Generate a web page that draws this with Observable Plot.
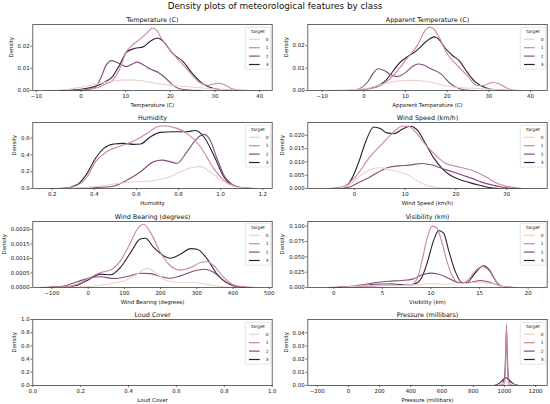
<!DOCTYPE html>
<html><head><meta charset="utf-8">
<script src="https://cdn.jsdelivr.net/npm/d3@7"></script>
<script src="https://cdn.jsdelivr.net/npm/@observablehq/plot@0.6"></script>
<style>
html,body{margin:0;padding:0;background:#fff;}
#fig{position:relative;width:550px;height:404px;overflow:hidden;font-family:"DejaVu Sans",sans-serif;}
#suptitle{position:absolute;left:0;top:0.3px;width:550px;text-align:center;font-size:8.8px;line-height:12px;color:#111;}
.panel{position:absolute;width:275px;height:98px;}
.legend{position:absolute;overflow:visible;}
</style></head><body>
<div id="fig"><div id="suptitle">Density plots of meteorological features by class</div></div>
<script>
const classes = [0, 1, 2, 3];
const classColors = ["#edd1cb", "#c8879e", "#834c7d", "#2d1e3e"];
const legendTitle = "target";
const yLabel = "Density";

// Temperature (C)
const temp0 = [[-8,0],[-5,0.0002],[-2,0.0008],[0,0.0015],[3.6,0.003],[7,0.0042],[10.6,0.0048],[13.2,0.0045],[17.6,0.003],[22,0.002],[28,0.001],[32.4,0.0004],[36,0.0001],[39,0]];
const temp1 = [[-3,0],[0,0.0003],[2,0.0008],[4,0.0015],[5.5,0.003],[7,0.0045],[8.5,0.009],[10.2,0.0177],[11.5,0.0205],[13.2,0.0232],[14.8,0.026],[16,0.0282],[17,0.027],[18,0.0235],[20,0.018],[22,0.0135],[24.3,0.0083],[26.5,0.0037],[28.4,0.0023],[30.6,0.0033],[32,0.0027],[33.8,0.0008],[35.4,0.0002],[38,0]];
const temp2 = [[-1,0],[1,0.0003],[3.2,0.0015],[4.5,0.006],[5.5,0.011],[6.9,0.0135],[8.5,0.0122],[10.2,0.0108],[11.5,0.012],[12.6,0.0128],[14,0.0115],[15.4,0.0098],[17.2,0.0082],[19.1,0.0053],[20.6,0.0023],[22,0.0008],[24.3,0.0002],[27,0]];
const temp3 = [[-5,0],[-2,0.0002],[0,0.0006],[2,0.0012],[4,0.0025],[5.5,0.004],[7,0.0062],[8.5,0.011],[10.2,0.0173],[12,0.019],[13.9,0.0197],[15.5,0.0222],[17.2,0.0237],[18.4,0.0222],[20.6,0.0165],[22.8,0.0132],[25,0.0075],[27.3,0.003],[29.5,0.001],[31.7,0.0003],[35,0]];
const tempXTicks = [-10, 0, 10, 20, 30, 40];
const tempYTicks = [0, 0.01, 0.02];

// Apparent Temperature (C)
const app0 = [[-9,0],[-5.6,0.0002],[-2,0.0005],[0.8,0.001],[4.8,0.003],[8,0.0042],[11.2,0.0045],[15.2,0.004],[18,0.0028],[20.8,0.0017],[25,0.0011],[30,0.0006],[34,0.0002],[38,0]];
const app1 = [[-4,0],[0.8,0.0006],[4.8,0.003],[8.8,0.0105],[10,0.0135],[12.8,0.02],[14.8,0.027],[15.9,0.0281],[17,0.027],[18,0.0239],[20,0.0164],[22.4,0.0112],[24.8,0.0067],[27.2,0.0022],[28.8,0.0022],[30.8,0.0037],[32.4,0.003],[34.8,0.0007],[37.2,0]];
const app2 = [[-3,0],[-1,0.0008],[1,0.004],[2.2,0.0075],[3.4,0.0097],[5,0.0088],[6.5,0.007],[8,0.0062],[10,0.008],[11.5,0.0105],[13,0.0118],[14.5,0.0112],[16,0.0098],[18.4,0.0075],[20.8,0.003],[23,0.0008],[25,0.0001],[27,0]];
const app3 = [[-4,0],[-3.2,0.0001],[0.8,0.0008],[4.8,0.0037],[8.8,0.0127],[10,0.0145],[12.8,0.018],[14.8,0.0216],[17,0.0239],[18,0.0228],[19.6,0.0187],[21.2,0.0157],[22.8,0.0134],[24.8,0.0082],[26.8,0.0037],[29.2,0.0012],[31.6,0.0003],[35,0]];
const appXTicks = [-10, 0, 10, 20, 30, 40];
const appYTicks = [0, 0.01, 0.02];

// Humidity
const hum0 = [[0.25,0],[0.35,0.008],[0.43,0.03],[0.51,0.06],[0.588,0.08],[0.667,0.09],[0.746,0.127],[0.81,0.2],[0.865,0.25],[0.904,0.26],[0.95,0.2],[1.0,0.1],[1.046,0.04],[1.1,0.005],[1.15,0]];
const hum1 = [[0.2,0],[0.255,0.002],[0.32,0.04],[0.366,0.14],[0.406,0.32],[0.46,0.44],[0.524,0.505],[0.588,0.565],[0.65,0.656],[0.70,0.735],[0.73,0.747],[0.793,0.716],[0.84,0.656],[0.904,0.497],[0.967,0.24],[1.015,0.1],[1.062,0.03],[1.11,0.008],[1.16,0]];
const hum2 = [[0.3,0],[0.366,0.005],[0.477,0.02],[0.556,0.1],[0.62,0.2],[0.683,0.32],[0.722,0.338],[0.76,0.32],[0.793,0.3],[0.84,0.437],[0.888,0.596],[0.92,0.644],[0.95,0.577],[0.983,0.358],[1.015,0.16],[1.062,0.04],[1.11,0.005],[1.15,0]];
const hum3 = [[0.2,0],[0.255,0.003],[0.32,0.048],[0.366,0.18],[0.406,0.36],[0.445,0.477],[0.493,0.53],[0.54,0.537],[0.588,0.525],[0.62,0.53],[0.667,0.616],[0.714,0.668],[0.778,0.676],[0.84,0.676],[0.88,0.69],[0.92,0.616],[0.967,0.4],[1.015,0.14],[1.062,0.03],[1.11,0.005],[1.16,0]];
const humXTicks = [0.2, 0.4, 0.6, 0.8, 1.0, 1.2];
const humYTicks = [0, 0.2, 0.4, 0.6];

// Wind Speed (km/h)
const ws0 = [[-3.1,0],[-1.1,0.0013],[0.86,0.0044],[2.8,0.0069],[4.8,0.0078],[6.8,0.0071],[8.75,0.0063],[10.7,0.005],[12.7,0.0025],[14.7,0.0009],[16.6,0.0004],[19.3,0.0001],[21,0]];
const ws1 = [[-5,0],[-2.4,0.0006],[0.2,0.0044],[2.8,0.0113],[5.5,0.0169],[7.4,0.0206],[9.4,0.0234],[10.7,0.0234],[12,0.0213],[14,0.0165],[16,0.0125],[18,0.0094],[19.9,0.0084],[21.9,0.0075],[23.9,0.0063],[25.9,0.0044],[27.8,0.0023],[29.8,0.0009],[31.8,0.0003],[33,0]];
const ws2 = [[-3.1,0],[-1.1,0.0005],[0.86,0.0023],[2.8,0.004],[4.8,0.0063],[6.8,0.008],[8.75,0.0085],[10.7,0.0088],[13.4,0.0094],[15.3,0.0088],[17.3,0.0075],[19.3,0.0063],[21.3,0.005],[23.2,0.0038],[25.2,0.0023],[27.2,0.0013],[29.1,0.0005],[31.1,0.0001],[32.5,0]];
const ws3 = [[-3.1,0],[-1.8,0.0006],[-0.5,0.0038],[0.86,0.01],[2.2,0.0175],[3.8,0.0231],[5.1,0.0225],[6.4,0.0209],[7.8,0.0206],[9.4,0.0223],[11.1,0.0234],[12.4,0.0219],[14,0.0169],[15.7,0.0113],[17.3,0.0075],[18.9,0.005],[20.6,0.0035],[22.6,0.0023],[24.5,0.0013],[26.5,0.0004],[28.5,0]];
const wsXTicks = [0, 10, 20, 30];
const wsYTicks = [0, 0.005, 0.01, 0.015, 0.02];

// Wind Bearing (degrees)
const wb0 = [[-90,0],[-58,0.00001],[0,0.00003],[52,0.00011],[99,0.00023],[135,0.00046],[163,0.00066],[191,0.00046],[218,0.00023],[255,0.00017],[292,0.00017],[329,0.0001],[366,0.00003],[402,0]];
const wb1 = [[-122,0],[-58,0.00003],[-30,0.00011],[0,0.00031],[34,0.00052],[62,0.0006],[89,0.00092],[117,0.00155],[135,0.002],[154,0.00218],[172,0.0019],[200,0.0012],[227,0.00075],[255,0.0006],[283,0.00069],[310,0.00086],[329,0.00089],[347,0.00075],[375,0.00034],[402,0.00009],[430,0.00002],[458,0]];
const wb2 = [[-130,0],[-104,0.00001],[-58,0.00008],[-30,0.0002],[0,0.00032],[34,0.00037],[71,0.00031],[108,0.00038],[144,0.00049],[172,0.00048],[200,0.00038],[227,0.00032],[255,0.0004],[292,0.00057],[320,0.00063],[347,0.00052],[375,0.00023],[402,0.00006],[430,0.00001],[450,0]];
const wb3 = [[-122,0],[-58,0.00002],[-30,0.00008],[0,0.00026],[34,0.00046],[62,0.00044],[89,0.00069],[117,0.0012],[144,0.00167],[158,0.0017],[181,0.00138],[209,0.00109],[227,0.00101],[255,0.00115],[283,0.00134],[301,0.00132],[329,0.00098],[356,0.00046],[384,0.00015],[412,0.00003],[439,0]];
const wbXTicks = [-100, 0, 100, 200, 300, 400, 500];
const wbYTicks = [0, 0.0005, 0.001, 0.0015, 0.002];

// Visibility (km)
const vis0 = [[0.86,0],[2.9,0.0027],[5,0.0038],[7,0.0033],[8.7,0.0049],[10.1,0.006],[11.5,0.0054],[13.2,0.006],[15.1,0.0087],[16.3,0.006],[17.3,0.0016],[18.4,0]];
const vis1 = [[0.86,0],[2.2,0.0005],[4.3,0.0027],[6,0.0038],[7.3,0.0035],[8,0.005],[8.6,0.015],[9.1,0.045],[9.6,0.08],[10.1,0.1],[10.6,0.097],[11.1,0.075],[11.6,0.045],[12.1,0.022],[12.6,0.01],[13.2,0.007],[13.8,0.012],[14.5,0.026],[15.3,0.034],[16,0.027],[16.6,0.012],[17.2,0.003],[18,0.0003],[18.7,0]];
const vis2 = [[-0.5,0],[1.5,0.0016],[2.9,0.0043],[4.3,0.0082],[5.7,0.0103],[7,0.0114],[8.1,0.0136],[9.1,0.0207],[9.9,0.0234],[10.8,0.0217],[11.8,0.0152],[12.9,0.0082],[13.9,0.0082],[15.1,0.0114],[16.1,0.0082],[17,0.0027],[18,0.0003],[18.5,0]];
const vis3 = [[0.5,0],[2.6,0.0016],[4.3,0.0054],[6,0.0058],[7.7,0.004],[8.5,0.007],[9.1,0.018],[9.6,0.04],[10.3,0.078],[10.8,0.093],[11.3,0.0886],[11.8,0.0614],[12.5,0.026],[13.2,0.008],[13.7,0.008],[14.4,0.0207],[15.1,0.033],[15.4,0.0355],[16,0.0288],[16.5,0.0152],[17,0.0043],[17.7,0.0005],[18.5,0]];
const visXTicks = [0, 5, 10, 15, 20];
const visYTicks = [0, 0.025, 0.05, 0.075, 0.1];

// Loud Cover (no density drawn)
const lc0 = [], lc1 = [], lc2 = [], lc3 = [];
const lcXTicks = [0, 0.2, 0.4, 0.6, 0.8, 1.0];
const lcYTicks = [0, 0.2, 0.4, 0.6, 0.8, 1.0];

// Pressure (millibars)
const pr0 = [[-190,0],[940,0],[980,0.001],[1013,0.0025],[1046,0.001],[1086,0],[1204,0]];
const pr1 = [[990,0],[1001,0.002],[1007,0.015],[1013,0.047],[1019,0.015],[1025,0.002],[1036,0]];
const pr2 = [[960,0],[985,0.001],[1000,0.006],[1008,0.025],[1013,0.042],[1018,0.025],[1026,0.006],[1041,0.001],[1066,0]];
const pr3 = [[-60,0],[930,0],[950,0.0005],[970,0.002],[990,0.0042],[1010,0.0058],[1030,0.0042],[1050,0.002],[1070,0.0005],[1090,0]];
const prXTicks = [-200, 0, 200, 400, 600, 800, 1000, 1200];
const prYTicks = [0, 0.01, 0.02, 0.03, 0.04];

const fmt = {
  int: d3.format("d"), f1: d3.format(".1f"), f2: d3.format(".2f"), f3: d3.format(".3f"), f4: d3.format(".4f")
};

const features = [
  {title: "Temperature (C)", series: [temp0, temp1, temp2, temp3], xDomain: [-10.8, 42.8], yDomain: [0, 0.0298], xTicks: tempXTicks, yTicks: tempYTicks, xFmt: fmt.int, yFmt: fmt.f2, ylabDx: -20},
  {title: "Apparent Temperature (C)", series: [app0, app1, app2, app3], xDomain: [-13.45, 44.0], yDomain: [0, 0.0294], xTicks: appXTicks, yTicks: appYTicks, xFmt: fmt.int, yFmt: fmt.f2, ylabDx: -20},
  {title: "Humidity", series: [hum0, hum1, hum2, hum3], xDomain: [0.108, 1.245], yDomain: [0, 0.786], xTicks: humXTicks, yTicks: humYTicks, xFmt: fmt.f1, yFmt: fmt.f1, ylabDx: -16.6},
  {title: "Wind Speed (km/h)", series: [ws0, ws1, ws2, ws3], xDomain: [-9.2, 38.0], yDomain: [0, 0.0248], xTicks: wsXTicks, yTicks: wsYTicks, xFmt: fmt.int, yFmt: fmt.f3, ylabDx: -23.6},
  {title: "Wind Bearing (degrees)", series: [wb0, wb1, wb2, wb3], xDomain: [-152.9, 508.3], yDomain: [0, 0.002276], xTicks: wbXTicks, yTicks: wbYTicks, xFmt: fmt.int, yFmt: fmt.f4, ylabDx: -27},
  {title: "Visibility (km)", series: [vis0, vis1, vis2, vis3], xDomain: [-2.68, 21.96], yDomain: [0, 0.1076], xTicks: visXTicks, yTicks: visYTicks, xFmt: fmt.int, yFmt: fmt.f3, ylabDx: -23.6},
  {title: "Loud Cover", series: [lc0, lc1, lc2, lc3], xDomain: [0, 1], yDomain: [0, 1], xTicks: lcXTicks, yTicks: lcYTicks, xFmt: fmt.f1, yFmt: fmt.f1, ylabDx: -16.6},
  {title: "Pressure (millibars)", series: [pr0, pr1, pr2, pr3], xDomain: [-260, 1274], yDomain: [0, 0.0501], xTicks: prXTicks, yTicks: prYTicks, xFmt: fmt.int, yFmt: fmt.f2, ylabDx: -20}
];

const colLeft = [0, 275];
const frameTops = [24, 122.3, 220.7, 319];
const M = {top: 13, bottom: 19, left: 32.3, right: 3.3};
const W = 275, H = 98;
const fig = document.getElementById("fig");
const SVGNS = "http://www.w3.org/2000/svg";

features.forEach((f, i) => {
  const col = i % 2, row = Math.floor(i / 2);
  const rows = [];
  for (let k = 3; k >= 0; k--) {
    f.series[k].forEach(([x, y]) => rows.push({x, y, target: classes[k]}));
  }
  const chart = Plot.plot({
    width: W, height: H,
    marginTop: M.top, marginBottom: M.bottom, marginLeft: M.left, marginRight: M.right,
    x: {domain: f.xDomain},
    y: {domain: f.yDomain},
    color: {domain: classes, range: classColors},
    style: {fontFamily: "DejaVu Sans", fontSize: "5.4px", background: "transparent", overflow: "visible", color: "#111"},
    marks: [
      Plot.line(rows, {x: "x", y: "y", z: "target", stroke: "target", strokeWidth: 1.1, curve: "monotone-x"}),
      Plot.axisX({ticks: f.xTicks, tickFormat: f.xFmt, tickSize: 2, tickPadding: 1.5, fontSize: 5.4, strokeWidth: 0.6, label: null}),
      Plot.axisY({ticks: f.yTicks, tickFormat: f.yFmt, tickSize: 2, tickPadding: 1.2, fontSize: 5.4, strokeWidth: 0.6, label: null}),
      Plot.text([f.title], {text: d => d, frameAnchor: "top", dy: -2.7, lineAnchor: "bottom", fontSize: 6.4}),
      Plot.text([f.title], {text: d => d, frameAnchor: "bottom", dy: 16, lineAnchor: "bottom", fontSize: 5.4}),
      Plot.text([yLabel], {text: d => d, frameAnchor: "left", dx: f.ylabDx, rotate: -90, lineAnchor: "bottom", fontSize: 5.4}),
      Plot.frame({stroke: "#444", strokeWidth: 0.8})
    ]
  });
  const div = document.createElement("div");
  div.className = "panel";
  div.style.left = colLeft[col] + "px";
  div.style.top = (frameTops[row] - M.top) + "px";
  div.appendChild(chart);
  fig.appendChild(div);

  // legend
  const lw = 26, lh = 42.5;
  const lg = document.createElementNS(SVGNS, "svg");
  lg.setAttribute("class", "legend");
  lg.setAttribute("width", lw); lg.setAttribute("height", lh);
  lg.style.left = (colLeft[col] + W - M.right - 1.2 - lw) + "px";
  lg.style.top = (frameTops[row] + 2.6) + "px";
  lg.style.fontFamily = "DejaVu Sans";
  const rect = document.createElementNS(SVGNS, "rect");
  rect.setAttribute("x", 0.3); rect.setAttribute("y", 0.3);
  rect.setAttribute("width", lw - 0.6); rect.setAttribute("height", lh - 0.6);
  rect.setAttribute("rx", 1); rect.setAttribute("fill", "#fff"); rect.setAttribute("fill-opacity", 0.8);
  rect.setAttribute("stroke", "#cccccc"); rect.setAttribute("stroke-width", 0.5);
  lg.appendChild(rect);
  const tt = document.createElementNS(SVGNS, "text");
  tt.setAttribute("x", lw / 2); tt.setAttribute("y", 6.2);
  tt.setAttribute("text-anchor", "middle"); tt.setAttribute("font-size", 4.4);
  tt.setAttribute("fill", "#111");
  tt.textContent = legendTitle;
  lg.appendChild(tt);
  classes.forEach((c, j) => {
    const cy = 12.3 + 8.4 * j;
    const ln = document.createElementNS(SVGNS, "line");
    ln.setAttribute("x1", 4); ln.setAttribute("x2", 14.7);
    ln.setAttribute("y1", cy); ln.setAttribute("y2", cy);
    ln.setAttribute("stroke", classColors[j]); ln.setAttribute("stroke-width", 1.2);
    lg.appendChild(ln);
    const tx = document.createElementNS(SVGNS, "text");
    tx.setAttribute("x", 20.8); tx.setAttribute("y", cy + 1.6);
    tx.setAttribute("font-size", 4.4);
    tx.setAttribute("fill", "#111");
    tx.textContent = String(c);
    lg.appendChild(tx);
  });
  fig.appendChild(lg);
});
</script></body></html>
